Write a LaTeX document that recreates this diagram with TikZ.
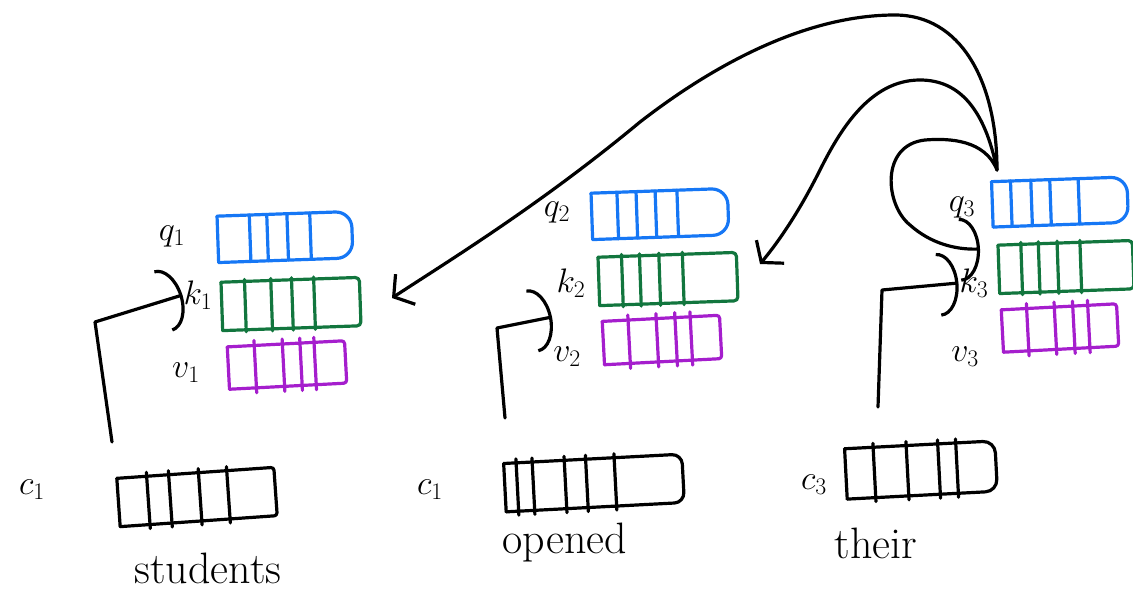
\RequirePackage{fix-cm}
\documentclass[tikz,border=0pt]{standalone}
\usetikzlibrary{arrows.meta,calc}
\definecolor{qblue}{RGB}{22,119,245}
\definecolor{kgreen}{RGB}{18,118,62}
\definecolor{vpurple}{RGB}{165,30,205}
\tikzset{
  ink/.style={line width=3.2pt, line cap=round, line join=round},
  lbl/.style={inner sep=1pt, font=\fontsize{34}{36}\selectfont},
  word/.style={inner sep=1pt, font=\fontsize{44}{46}\selectfont},
  barb/.style={ink, -{Straight Barb[length=14pt,width=36pt]}},
  hook/.style={ink, -{Arc Barb[length=20pt,width=64pt]}},
}
% #1 name, #2 colour, #3 centre, #4 width, #5 height, #6 rotation, #7 dividers, #8 right radius, #9 divider overshoot
\newcommand\vecbox[9]{%
  \node[minimum width=#4, minimum height=#5, inner sep=0pt, rotate=#6] (#1) at #3 {};
  \draw[ink,#2,rounded corners=#8] (#1.north west) -- (#1.north east) -- (#1.south east) -- (#1.south west);
  \draw[ink,#2] (#1.south west) -- (#1.north west);
  \foreach \f in {#7}
    \draw[ink,#2,shorten <=-#9,shorten >=-#9] ($(#1.south west)!\f!(#1.south east)$) -- ($(#1.north west)!\f!(#1.north east)$);
}
\begin{document}
\begin{tikzpicture}[x=1pt,y=-1pt]
\useasboundingbox (0,0) rectangle (1133,596);

% column 1
\vecbox{qa}{qblue}{(285,237)}{134pt}{46pt}{2}{0.24,0.37,0.52,0.69}{16pt}{0pt}
\vecbox{ka}{kgreen}{(291,304)}{138pt}{48pt}{2}{0.17,0.36,0.51,0.67}{4pt}{2pt}
\vecbox{va}{vpurple}{(287,365)}{117pt}{42pt}{3}{0.23,0.47,0.62,0.74}{3pt}{5pt}
\vecbox{ba}{black}{(197,497)}{157pt}{48pt}{4}{0.19,0.33,0.52,0.70}{3pt}{4pt}
\node[lbl] (q1) at (172,236) {$q_1$};
\node[lbl] (k1) at (198,295) {$k_1$};
\node[lbl] (v1) at (186,373) {$v_1$};
\node[lbl] (c1) at (32,490) {$c_1$};
\node[word] (w1) at (208,568) {students};

% column 2
\vecbox{qb}{qblue}{(660,214)}{136pt}{46pt}{2}{0.19,0.33,0.47,0.63}{16pt}{0pt}
\vecbox{kb}{kgreen}{(668,279)}{138pt}{48pt}{2}{0.17,0.30,0.44,0.61}{4pt}{2pt}
\vecbox{vb}{vpurple}{(662,340)}{117pt}{43pt}{3}{0.22,0.46,0.62,0.75}{3pt}{5pt}
\vecbox{bb}{black}{(594,483)}{178pt}{48pt}{3}{0.07,0.16,0.34,0.46,0.62}{10pt}{4pt}
\node[lbl] (q2) at (557,212) {$q_2$};
\node[lbl] (k2) at (571,283) {$k_2$};
\node[lbl] (v2) at (567,357) {$v_2$};
\node[lbl] (c2) at (430,490) {$c_1$};
\node[word] (w2) at (565,543) {opened};

% column 3
\vecbox{qc}{qblue}{(1060,202)}{135pt}{45pt}{2}{0.14,0.29,0.43,0.64}{16pt}{0pt}
\vecbox{kc}{kgreen}{(1066,267)}{134pt}{48pt}{2}{0.17,0.30,0.44,0.61}{4pt}{2pt}
\vecbox{vc}{vpurple}{(1060,328)}{115pt}{42pt}{3}{0.22,0.46,0.62,0.75}{3pt}{5pt}
\vecbox{bc}{black}{(921,470)}{150pt}{50pt}{3}{0.19,0.41,0.62,0.74}{12pt}{4pt}
\node[lbl] (q3) at (962,207) {$q_3$};
\node[lbl] (k3) at (974,283) {$k_3$};
\node[lbl] (v3) at (965,357) {$v_3$};
\node[lbl] (c3) at (814,485) {$c_3$};
\node[word] (w3) at (876,543) {their};

% c -> k connectors
\coordinate (s1) at (112,442);
\coordinate (s2) at (505,418);
\coordinate (s3) at (878,407);
\coordinate (t2) at (552,317);
\draw[hook] (s1) -- (95,322) -- (k1.west);
\draw[hook] (s2) -- (497,328) -- (t2);
\draw[hook] (s3) -- (882,290) -- (k3.west);

% attention arcs from q3
\coordinate (src) at (997,170);
\coordinate (ta) at (392,298);
\coordinate (tb) at (760,264);
\coordinate (tc) at (980,249);
\draw[barb] (src) .. controls (997,80) and (960,15) .. (895,15)
  .. controls (810,15) and (720,60) .. (640,122)
  .. controls (540,205) and (450,260) .. (ta);
\draw[barb] (src) .. controls (985,110) and (960,80) .. (920,80)
  .. controls (870,80) and (840,130) .. (820,170)
  .. controls (800,210) and (780,240) .. (tb);
\draw[hook] (src) .. controls (985,140) and (950,138) .. (925,140)
  .. controls (880,145) and (885,205) .. (910,225)
  .. controls (930,243) and (955,250) .. (tc);
\end{tikzpicture}
\end{document}
